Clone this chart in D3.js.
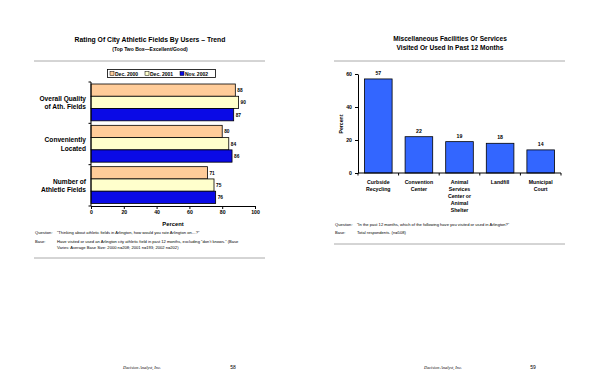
<!DOCTYPE html>
<html>
<head>
<meta charset="utf-8">
<script src="https://cdn.jsdelivr.net/npm/d3@7"></script>
<style>
  body { margin: 0; background: #fff; }
  svg { display: block; font-family: "Liberation Sans", Arial, sans-serif; }
</style>
</head>
<body>
<div id="chart"></div>
<script>
// Left chart data
const fieldCategories = [["Overall Quality", "of Ath. Fields"], ["Conveniently", "Located"], ["Number of", "Athletic Fields"]];
const fieldSeries = ["Dec. 2000", "Dec. 2001", "Nov. 2002"];
const dec2000 = [88, 80, 71];
const dec2001 = [90, 84, 75];
const nov2002 = [87, 86, 76];
const xTicks = [0, 20, 40, 60, 80, 100];

// Right chart data
const facilityCategories = [["Curbside", "Recycling"], ["Convention", "Center"], ["Animal", "Services", "Center or", "Animal", "Shelter"], ["Landfill"], ["Municipal", "Court"]];
const facilityValues = [57, 22, 19, 18, 14];
const yTicks = [0, 20, 40, 60];

const svg = d3.select("#chart").append("svg")
    .attr("width", 600)
    .attr("height", 388);

const seriesColors = ["#ffcc99", "#ffffcc", "#0a0ae6"];
const noteSize = 4.1;

// ---------- left page ----------
const left = svg.append("g");

left.append("text").attr("x", 150).attr("y", 42).attr("text-anchor", "middle")
    .attr("font-size", 6.8).attr("font-weight", "bold")
    .text("Rating Of City Athletic Fields By Users \u2013 Trend");
left.append("text").attr("x", 150).attr("y", 51).attr("text-anchor", "middle")
    .attr("font-size", 5).attr("font-weight", "bold")
    .text("(Top Two Box\u2014Excellent/Good)");
left.append("line").attr("x1", 34).attr("x2", 265).attr("y1", 61).attr("y2", 61)
    .attr("stroke", "#aaa").attr("stroke-width", 1);

// legend
const legend = left.append("g");
legend.append("rect").attr("x", 107.5).attr("y", 69.5).attr("width", 108).attr("height", 8)
    .attr("fill", "#fff").attr("stroke", "#000").attr("stroke-width", 0.8);
const legendX = [110, 145, 180];
fieldSeries.forEach((s, i) => {
    legend.append("rect").attr("x", legendX[i]).attr("y", 71.5).attr("width", 4).attr("height", 4)
        .attr("fill", seriesColors[i]).attr("stroke", "#000").attr("stroke-width", 0.5);
    legend.append("text").attr("x", legendX[i] + 5).attr("y", 75.7)
        .attr("font-size", 5).attr("font-weight", "bold").text(s);
});

const x = d3.scaleLinear().domain([0, 100]).range([91, 255]);
const yCat = d3.scaleBand().domain(d3.range(fieldCategories.length)).range([82, 206]);
const ySer = d3.scaleBand().domain(d3.range(fieldSeries.length)).range([2, yCat.bandwidth() - 2.5]);

const fieldData = [dec2000, dec2001, nov2002];
fieldCategories.forEach((cat, ci) => {
    const g = left.append("g").attr("transform", `translate(0,${yCat(ci)})`);
    fieldData.forEach((vals, si) => {
        g.append("rect")
            .attr("x", x(0))
            .attr("y", ySer(si))
            .attr("width", x(vals[ci]) - x(0))
            .attr("height", ySer.bandwidth())
            .attr("fill", seriesColors[si])
            .attr("stroke", "#000")
            .attr("stroke-width", 0.8);
        g.append("text")
            .attr("x", x(vals[ci]) + 2)
            .attr("y", ySer(si) + ySer.bandwidth() / 2 + 2)
            .attr("font-size", 4.8).attr("font-weight", "bold")
            .text(vals[ci]);
    });
    const cy = yCat(ci) + yCat.bandwidth() / 2;
    cat.forEach((line, li) => {
        left.append("text")
            .attr("x", 86)
            .attr("y", cy + (li - (cat.length - 1) / 2) * 8.5 + 2.5)
            .attr("text-anchor", "end")
            .attr("font-size", 6.6).attr("font-weight", "bold")
            .text(line);
    });
});

// axes
const yAxisL = left.append("g");
yAxisL.append("line").attr("x1", x(0)).attr("x2", x(0)).attr("y1", 82).attr("y2", 206)
    .attr("stroke", "#000").attr("stroke-width", 1);
d3.range(fieldCategories.length + 1).forEach(i => {
    const yy = 82 + i * yCat.bandwidth();
    yAxisL.append("line").attr("x1", x(0) - 2.5).attr("x2", x(0)).attr("y1", yy).attr("y2", yy)
        .attr("stroke", "#000").attr("stroke-width", 1);
});

const xAxis = left.append("g").attr("transform", "translate(0,206)")
    .call(d3.axisBottom(x).tickValues(xTicks).tickSize(3).tickSizeOuter(0));
xAxis.select(".domain").attr("stroke-width", 1);
xAxis.selectAll("text").attr("font-size", 5.2).attr("font-weight", "bold")
    .attr("font-family", "Liberation Sans, Arial, sans-serif").attr("dy", "0.55em").attr("y", 5);

left.append("text").attr("x", 173).attr("y", 226).attr("text-anchor", "middle")
    .attr("font-size", 5.8).attr("font-weight", "bold").text("Percent");

left.append("text").attr("x", 35).attr("y", 234).attr("font-size", noteSize).text("Question:");
left.append("text").attr("x", 57).attr("y", 234).attr("font-size", noteSize)
    .text("\u201cThinking about athletic fields in Arlington, how would you rate Arlington on\u2026?\u201d");
left.append("text").attr("x", 35).attr("y", 243).attr("font-size", noteSize).text("Base:");
left.append("text").attr("x", 57).attr("y", 243).attr("font-size", noteSize)
    .text("Have visited or used an Arlington city athletic field in past 12 months, excluding \u201cdon\u2019t knows.\u201d  (Base");
left.append("text").attr("x", 57).attr("y", 248.5).attr("font-size", noteSize)
    .text("Varies: Average Base Size: 2000 n=208; 2001 n=193; 2002 n=202)");
left.append("line").attr("x1", 34).attr("x2", 265).attr("y1", 258).attr("y2", 258)
    .attr("stroke", "#aaa").attr("stroke-width", 1);

left.append("text").attr("x", 142).attr("y", 369).attr("text-anchor", "middle")
    .attr("font-family", "Liberation Serif, serif").attr("font-style", "italic")
    .attr("font-size", 4.3).text("Decision Analyst, Inc.");
left.append("text").attr("x", 233).attr("y", 369).attr("text-anchor", "middle")
    .attr("font-size", 5).text("58");

// ---------- right page ----------
const right = svg.append("g");

right.append("text").attr("x", 450).attr("y", 41).attr("text-anchor", "middle")
    .attr("font-size", 6.6).attr("font-weight", "bold")
    .text("Miscellaneous Facilities Or Services");
right.append("text").attr("x", 450).attr("y", 50).attr("text-anchor", "middle")
    .attr("font-size", 6.6).attr("font-weight", "bold")
    .text("Visited Or Used In Past 12 Months");
right.append("line").attr("x1", 334).attr("x2", 565).attr("y1", 61).attr("y2", 61)
    .attr("stroke", "#aaa").attr("stroke-width", 1);

const xb = d3.scaleBand().domain(d3.range(facilityCategories.length)).range([358, 561])
    .paddingInner(0.32).paddingOuter(0.16);
const yv = d3.scaleLinear().domain([0, 60]).range([173, 74]);

right.selectAll(".fac-bar").data(facilityValues).enter().append("rect")
    .attr("class", "fac-bar")
    .attr("x", (d, i) => xb(i))
    .attr("y", d => yv(d))
    .attr("width", xb.bandwidth())
    .attr("height", d => yv(0) - yv(d))
    .attr("fill", "#3366ff")
    .attr("stroke", "#000")
    .attr("stroke-width", 0.8);

right.selectAll(".fac-val").data(facilityValues).enter().append("text")
    .attr("class", "fac-val")
    .attr("x", (d, i) => xb(i) + xb.bandwidth() / 2)
    .attr("y", d => yv(d) - 4)
    .attr("text-anchor", "middle")
    .attr("font-size", 5.2).attr("font-weight", "bold")
    .text(d => d);

const yAxisR = right.append("g").attr("transform", "translate(358,0)")
    .call(d3.axisLeft(yv).tickValues(yTicks).tickSize(3).tickSizeOuter(0));
yAxisR.select(".domain").attr("stroke-width", 1);
yAxisR.selectAll("text").attr("font-size", 5.2).attr("font-weight", "bold")
    .attr("font-family", "Liberation Sans, Arial, sans-serif");

const xAxisR = right.append("g").attr("transform", "translate(0,173)");
xAxisR.append("line").attr("x1", 358).attr("x2", 561).attr("y1", 0).attr("y2", 0)
    .attr("stroke", "#000").attr("stroke-width", 1);
const catStep = 203 / facilityCategories.length;
d3.range(facilityCategories.length + 1).forEach(i => {
    const xx = 358 + i * catStep;
    xAxisR.append("line").attr("x1", xx).attr("x2", xx).attr("y1", 0).attr("y2", 2.5)
        .attr("stroke", "#000").attr("stroke-width", 1);
});

facilityCategories.forEach((cat, ci) => {
    cat.forEach((line, li) => {
        right.append("text")
            .attr("x", xb(ci) + xb.bandwidth() / 2)
            .attr("y", 184 + li * 7)
            .attr("text-anchor", "middle")
            .attr("font-size", 5.2).attr("font-weight", "bold")
            .text(line);
    });
});

right.append("text").attr("transform", "translate(343,124) rotate(-90)")
    .attr("text-anchor", "middle").attr("font-size", 5.2).attr("font-weight", "bold")
    .text("Percent");

right.append("text").attr("x", 335).attr("y", 226).attr("font-size", noteSize).text("Question:");
right.append("text").attr("x", 357).attr("y", 226).attr("font-size", noteSize)
    .text("\u201cIn the past 12 months, which of the following have you visited or used in Arlington?\u201d");
right.append("text").attr("x", 335).attr("y", 234).attr("font-size", noteSize).text("Base:");
right.append("text").attr("x", 357).attr("y", 234).attr("font-size", noteSize)
    .text("Total respondents.  (n=508)");
right.append("line").attr("x1", 334).attr("x2", 565).attr("y1", 244).attr("y2", 244)
    .attr("stroke", "#aaa").attr("stroke-width", 1);

right.append("text").attr("x", 443).attr("y", 369).attr("text-anchor", "middle")
    .attr("font-family", "Liberation Serif, serif").attr("font-style", "italic")
    .attr("font-size", 4.3).text("Decision Analyst, Inc.");
right.append("text").attr("x", 533).attr("y", 369).attr("text-anchor", "middle")
    .attr("font-size", 5).text("59");
</script>
</body>
</html>
